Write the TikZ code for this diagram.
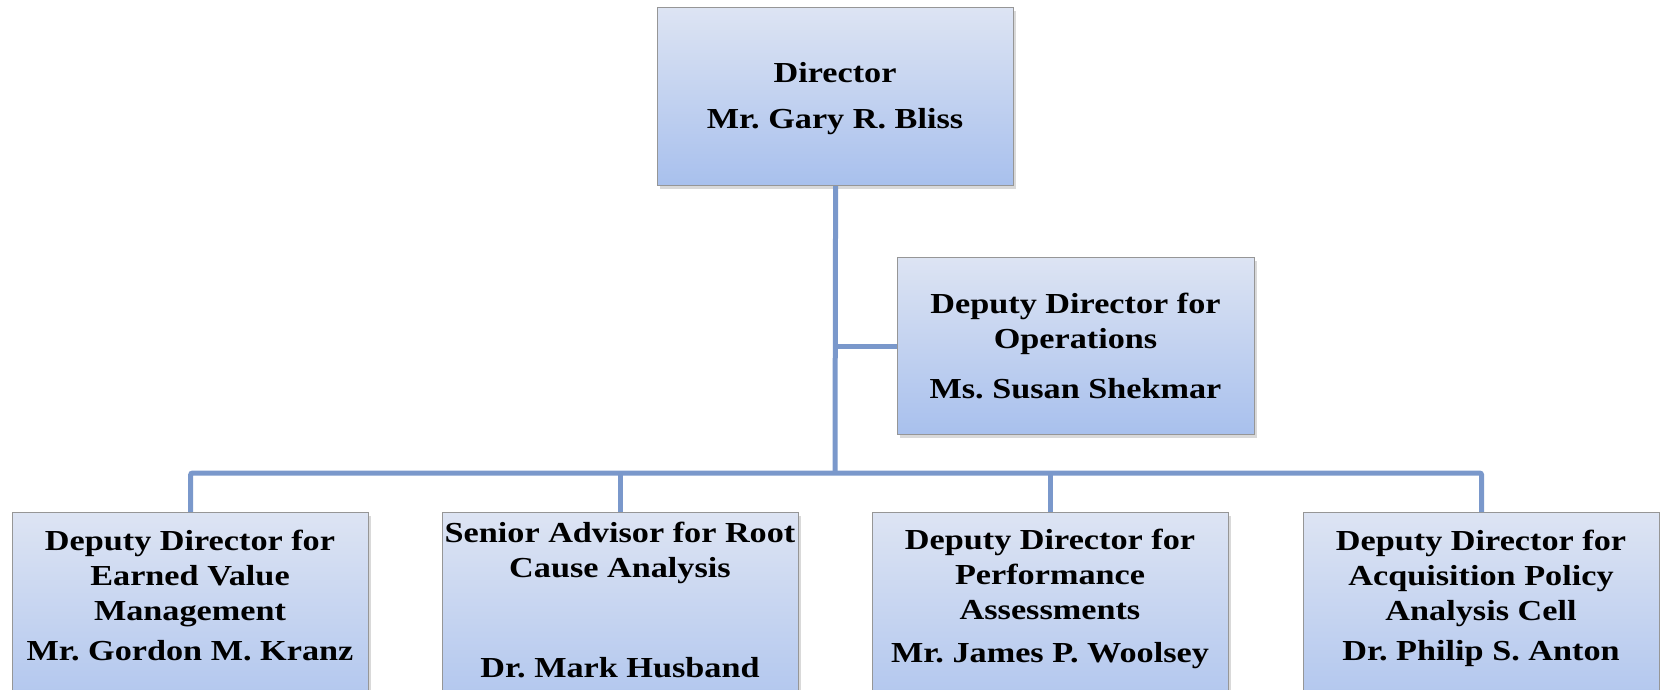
\documentclass[tikz,border=0pt]{standalone}
\usepackage{fontspec}
\setmainfont{Liberation Serif}[FakeStretch=1.18]
\usetikzlibrary{shadows}
\definecolor{boxtop}{RGB}{221,228,243}
\definecolor{boxbot}{RGB}{168,192,237}
\definecolor{conncol}{RGB}{122,152,203}
\definecolor{edgecol}{RGB}{150,150,150}
\begin{document}
\frenchspacing
\begin{tikzpicture}[x=1pt,y=-1pt,
  orgbox/.style={draw=edgecol, line width=1.2pt, top color=boxtop, bottom color=boxbot,
    minimum width=356pt, inner sep=0pt, anchor=north west,
    drop shadow={shadow xshift=2pt, shadow yshift=-3pt, opacity=0.3}},
  boxtext/.style={anchor=north, inner sep=0pt, align=center,
    font=\fontsize{29}{35}\selectfont\bfseries\frenchspacing},
  conn/.style={draw=conncol, line width=5pt},
]
\useasboundingbox (0,0) rectangle (1660,689);

% boxes
\node[orgbox, minimum height=178pt] (dir) at (657,7) {};
\node[orgbox, minimum height=177pt, minimum width=357pt] (ops) at (897,257) {};
\node[orgbox, minimum height=230pt] (b1) at (12,512) {};
\node[orgbox, minimum height=230pt] (b2) at (442,512) {};
\node[orgbox, minimum height=230pt] (b3) at (872,512) {};
\node[orgbox, minimum height=230pt] (b4) at (1303,512) {};

% connectors
\coordinate (bus) at (835,473);
\draw[conn] (dir.south) -- (bus);
\draw[conn] (ops.west) -- (ops.west -| dir.south);
\draw[conn, rounded corners=2pt] (b1.north) |- (bus) -| (b4.north);
\draw[conn] (b2.north) -- (b2.north |- bus);
\draw[conn] (b3.north) -- (b3.north |- bus);

% texts
\node[boxtext] (dirt) at (835,57.5) {\strut Director\\[11pt]Mr. Gary R. Bliss};
\node[boxtext] (opst) at (1075.5,288.5) {\strut Deputy Director for\\Operations\\[15pt]Ms. Susan Shekmar};
\node[boxtext] (b1t) at (190,525.5) {\strut Deputy Director for\\Earned Value\\Management\\[5pt]Mr. Gordon M. Kranz};
\node[boxtext] (b2t) at (620,517.5) {\strut Senior Advisor for Root\\Cause Analysis\\[65pt]Dr. Mark Husband};
\node[boxtext] (b3t) at (1050,524.5) {\strut Deputy Director for\\Performance\\Assessments\\[8pt]Mr. James P. Woolsey};
\node[boxtext] (b4t) at (1481,525.5) {\strut Deputy Director for\\Acquisition Policy\\Analysis Cell\\[5pt]Dr. Philip S. Anton};
\end{tikzpicture}
\end{document}
